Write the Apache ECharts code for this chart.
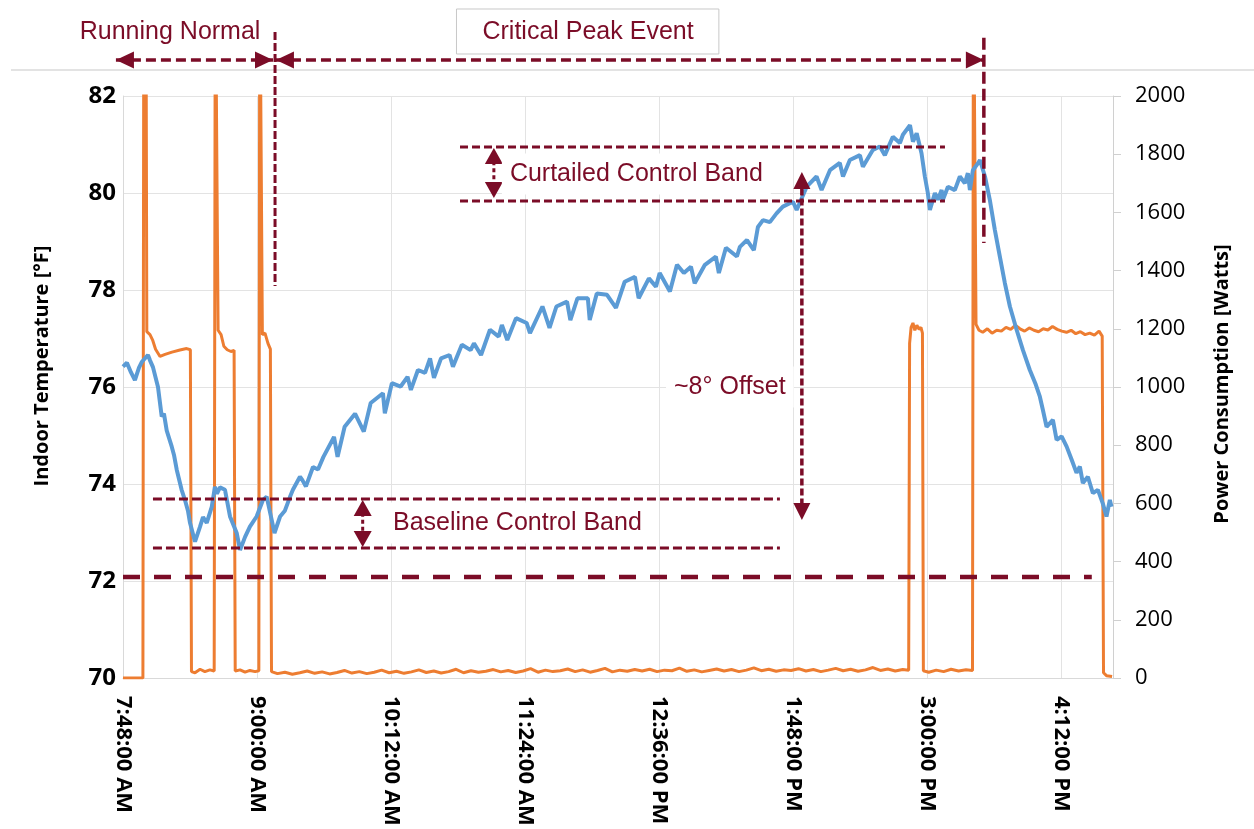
<!DOCTYPE html>
<html><head><meta charset="utf-8">
<script src="https://cdn.jsdelivr.net/npm/echarts@6/dist/echarts.min.js"></script>
<style>html,body{margin:0;padding:0;background:#fff}#c{width:1254px;height:829px}</style>
</head><body><div id="c"></div>
<script>
// x values are minutes after 7:48:00 AM
const xTickLabels = ['7:48:00 AM','9:00:00 AM','10:12:00 AM','11:24:00 AM','12:36:00 PM','1:48:00 PM','3:00:00 PM','4:12:00 PM'];

const tempMinutes = [0,2.1,4.3,6.4,8.6,10.2,13.4,14.5,16.1,18.8,
20.8,22.0,23.5,26.2,27.4,28.9,31.5,33.3,34.9,36.0,
38.7,41.4,43.0,45.0,47.7,49.4,50.5,52.1,54.8,57.5,
61.1,62.9,65.6,68.2,71.8,75.2,77.2,79.9,81.4,84.4,
87.0,89.7,91.3,95.1,96.4,98.3,102.1,104.8,107.7,113.4,
115.3,119.1,124.7,129.4,133.1,139.7,140.7,144.5,149.2,152.9,
154.7,158.5,162.3,165.0,167.1,170.9,175.5,177.3,182.1,186.8,
188.6,192.4,197.2,201.9,203.6,206.5,211.2,216.9,218.7,225.4,
229.2,232.9,238.6,240.4,244.2,249.8,250.8,254.6,260.1,264.9,
269.6,275.1,277.1,282.6,286.4,288.4,293.9,297.7,301.4,305.2,
307.2,312.7,318.6,320.2,324.0,329.9,331.5,335.3,339.0,341.2,
343.9,347.6,351.2,354.6,360.0,362.0,367.4,372.7,375.4,379.9,
385.2,386.9,390.6,396.0,397.6,403.0,406.7,409.4,413.7,417.5,
419.1,422.9,424.5,426.5,429.1,430.9,432.5,433.6,436.3,437.9,
439.9,440.6,443.3,447.0,449.7,452.4,454.0,455.1,456.7,459.4,
460.5,463.2,465.8,468.5,471.2,473.9,476.6,480.2,483.6,487.3,
490.5,492.7,494.3,496.3,499.7,501.7,504.4,507.1,509.8,512.4,
514.2,515.8,518.5,521.2,523.9,526.5,528.5,530.3,531.2];

const tempValues = [76.42,76.5,76.3,76.14,76.4,76.52,76.66,76.55,76.41,76.0,
75.39,75.45,75.1,74.77,74.6,74.29,73.88,73.67,73.45,73.2,
72.81,73.12,73.32,73.2,73.53,73.94,73.8,73.93,73.88,73.33,
72.99,72.64,72.91,73.12,73.33,73.67,73.74,73.26,72.99,73.33,
73.45,73.73,73.88,74.15,74.08,73.95,74.35,74.3,74.56,74.97,
74.56,75.18,75.45,75.08,75.67,75.87,75.46,76.08,76.01,76.21,
75.94,76.35,76.29,76.59,76.19,76.59,76.66,76.42,76.87,76.76,
76.9,76.66,77.18,77.04,77.28,76.97,77.42,77.32,77.11,77.66,
77.22,77.66,77.76,77.38,77.83,77.83,77.38,77.93,77.9,77.63,
78.17,78.27,77.83,78.24,78.07,78.35,77.97,78.52,78.35,78.48,
78.14,78.52,78.69,78.35,78.87,78.69,78.89,79.03,78.82,79.3,
79.44,79.4,79.58,79.72,79.82,79.65,80.13,80.34,80.06,80.47,
80.62,80.34,80.68,80.78,80.54,80.89,80.96,80.78,81.16,81.03,
81.2,81.4,81.06,81.23,80.82,80.34,80.0,79.65,80.0,79.86,
80.06,79.86,80.13,80.06,80.34,80.2,80.41,80.06,80.47,80.61,
80.68,80.34,79.86,79.24,78.69,78.14,77.66,77.18,76.76,76.35,
76.05,75.8,75.53,75.18,75.32,74.91,74.98,74.77,74.5,74.23,
74.36,74.02,74.15,73.81,73.88,73.6,73.33,73.67,73.53];

const powerMinutes = [0,10.7,11.2,12.3,12.8,14.5,16.0,17.5,19.9,22.6,
26.3,30.6,34.2,36.2,36.8,38.7,41.4,44.0,46.7,49.0,
49.6,50.6,51.1,52.7,54.2,56.0,58.0,59.7,60.3,62.9,
65.6,68.2,71.0,73.0,73.5,74.4,74.9,76.3,77.9,79.2,79.8,
83,87,91,95,99,103,107,111,115,119,123,127,131,135,139,143,147,151,155,159,
163,167,171,175,179,183,187,191,195,199,203,207,211,215,219,223,227,231,235,239,
243,247,251,255,259,263,267,271,275,279,283,287,291,295,299,303,307,311,315,319,
323,327,331,335,339,343,347,351,355,359,363,367,371,375,379,383,387,391,395,399,
403,407,411,415,419,422.2,
422.7,423.5,424.5,425.5,426.6,427.8,428.8,429.6,430.1,433,
437,441,445,449,453,456.5,457.0,457.9,458.4,460,
462,464.5,467,469.5,472,474.5,477,479.5,482,484.5,
487,489.5,492,494.5,497,499.5,502,504.5,507,509.5,
512,514.5,517,519.5,522,524.5,526.2,526.9,528.5,531.5];

const powerValues = [0,0,2500,2500,1190,1180,1160,1130,1105,1112,
1120,1127,1132,1128,22,18,30,22,28,24,
2500,2500,1195,1180,1140,1128,1122,1126,24,28,
20,26,22,25,2500,2500,1180,1185,1150,1130,22,
15,20,13,18,24,16,21,14,19,26,17,22,15,20,27,18,23,16,21,28,
19,24,17,22,30,18,25,20,23,29,21,26,19,24,32,20,27,22,25,31,
22,28,20,26,33,21,27,23,29,24,30,22,27,25,34,23,28,21,26,31,
24,29,22,27,35,25,30,23,28,26,32,24,29,22,27,33,25,30,23,28,
36,26,31,24,29,27,
1150,1205,1220,1195,1212,1198,1205,1185,25,20,
27,22,30,24,28,26,2500,2500,1215,1195,
1188,1200,1185,1195,1192,1205,1198,1212,1200,1192,
1203,1195,1190,1200,1196,1208,1198,1192,1188,1195,
1183,1190,1180,1185,1178,1192,1175,18,8,5];

const tempData = tempMinutes.map((m, i) => [m, tempValues[i]]);
const powerData = powerMinutes.map((m, i) => [m, powerValues[i]]);

const chart = echarts.init(document.getElementById('c'));
const numFont = '"Open Sans", "DejaVu Sans", sans-serif';
chart.setOption({
  animation: false,
  grid: { left: 123, right: 141, top: 96, bottom: 151, containLabel: false },
  xAxis: {
    type: 'value', min: 0, max: 532, interval: 72,
    axisLine: { show: true, onZero: false, lineStyle: { color: '#d9d9d9', width: 1 } },
    axisTick: { show: false },
    splitLine: { show: true, lineStyle: { color: '#e3e3e3', width: 1 } },
    axisLabel: {
      rotate: -90, margin: 18, fontFamily: numFont, fontWeight: 'bold', fontSize: 22, color: '#000',
      showMaxLabel: false,
      formatter: v => { const i = Math.round(v / 72); return (Math.abs(v - i * 72) < 1e-6 && i < xTickLabels.length) ? xTickLabels[i] : ''; }
    }
  },
  yAxis: [
    { type: 'value', min: 70, max: 82, interval: 2, position: 'left',
      axisLine: { show: true, lineStyle: { color: '#d9d9d9' } }, axisTick: { show: false },
      splitLine: { show: true, lineStyle: { color: '#e3e3e3' } },
      axisLabel: { margin: 7, fontFamily: numFont, fontWeight: 'bold', fontSize: 24, color: '#000',
        formatter: v => String(v) } },
    { type: 'value', min: 0, max: 2000, interval: 200, position: 'right',
      axisLine: { show: true, lineStyle: { color: '#d0d0d0' } },
      axisTick: { show: true, length: 8, lineStyle: { color: '#d0d0d0' } },
      splitLine: { show: false },
      axisLabel: { margin: 22, fontFamily: numFont, fontSize: 22, color: '#000',
        formatter: v => String(v) } }
  ],
  series: [
    { name: 'Power', type: 'line', yAxisIndex: 1, data: powerData, symbol: 'none', clip: true, z: 2,
      lineStyle: { color: '#ED7D31', width: 3 }, itemStyle: { color: '#ED7D31' } },
    { name: 'Temperature', type: 'line', yAxisIndex: 0, data: tempData, symbol: 'none', clip: true, z: 3,
      lineStyle: { color: '#5B9BD5', width: 4 }, itemStyle: { color: '#5B9BD5' } }
  ]
});

// ---- annotations (positions in axis units: minutes after 7:48, °F) ----
const annoColor = '#7b0c27';
const annoFont = '25px "Liberation Sans", Arial, sans-serif';
function P(m, t) { return chart.convertToPixel({ xAxisIndex: 0, yAxisIndex: 0 }, [m, t]); }
const g = [];
function dline(m1, t1, m2, t2, w, dash, color) {
  const a = P(m1, t1), b = P(m2, t2);
  g.push({ type: 'line', z: 100, shape: { x1: a[0], y1: a[1], x2: b[0], y2: b[1] },
    style: { stroke: color || annoColor, lineWidth: w, lineDash: dash } });
}
function head(m, t, dir, len, wid) {
  const [x, y] = P(m, t); let pts;
  if (dir === 'L') pts = [[x, y], [x + len, y - wid / 2], [x + len, y + wid / 2]];
  if (dir === 'R') pts = [[x, y], [x - len, y - wid / 2], [x - len, y + wid / 2]];
  if (dir === 'U') pts = [[x, y], [x - wid / 2, y + len], [x + wid / 2, y + len]];
  if (dir === 'D') pts = [[x, y], [x - wid / 2, y - len], [x + wid / 2, y - len]];
  g.push({ type: 'polygon', z: 101, shape: { points: pts }, style: { fill: annoColor } });
}
function label(m, t, text, align, bg) {
  const [x, y] = P(m, t);
  g.push({ type: 'text', z: 102, x: x, y: y,
    style: { text: text, font: annoFont, fill: annoColor, align: align, verticalAlign: 'middle',
      textAlign: align, textVerticalAlign: 'middle',
      backgroundColor: bg ? '#fff' : 'transparent', padding: bg ? [8, 8] : 0 } });
}

// top separator
dline(-60.2, 82.536, 608, 82.536, 1.2, null, '#c8c8c8');
// Running Normal
label(25.3, 83.32, 'Running Normal', 'center', false);
dline(-3.8, 82.742, 80.6, 82.742, 3.5, [10, 5]);
head(-3.8, 82.742, 'L', 18, 17); head(80.6, 82.742, 'R', 18, 17);
// Critical Peak Event
(function () {
  const a = P(179.2, 83.794), b = P(320.2, 82.866);
  g.push({ type: 'rect', z: 100, shape: { x: a[0], y: a[1], width: b[0] - a[0], height: b[1] - a[1] },
    style: { fill: '#fff', stroke: '#c8c8c8', lineWidth: 1 } });
})();
label(249.9, 83.32, 'Critical Peak Event', 'center', false);
dline(82.2, 82.742, 462.6, 82.742, 3.5, [10, 5]);
head(82.2, 82.742, 'L', 18, 17); head(462.6, 82.742, 'R', 18, 17);
// event boundaries
dline(81.7, 83.32, 81.7, 78.08, 3, [8, 3]);
dline(462.6, 83.2, 462.6, 78.97, 3.5, [12, 5]);
// 72 °F long dash
dline(0, 72.08, 520.6, 72.08, 4.5, [17, 14]);
// Curtailed control band
dline(181.1, 80.948, 441.7, 80.948, 3, [8, 4]);
dline(181.1, 79.835, 441.7, 79.835, 3, [8, 4]);
dline(199.3, 80.8, 199.3, 80.0, 3, [4, 3]);
head(199.3, 80.928, 'U', 16, 18); head(199.3, 79.897, 'D', 16, 18);
label(203.6, 80.39, 'Curtailed Control Band', 'left', true);
// Baseline control band
dline(16.1, 73.691, 353.0, 73.691, 3, [9, 4]);
dline(16.1, 72.680, 353.0, 72.680, 3, [9, 4]);
dline(128.8, 73.55, 128.8, 72.8, 3, [4, 3]);
head(128.8, 73.67, 'U', 16, 18); head(128.8, 72.70, 'D', 16, 18);
label(140.8, 73.196, 'Baseline Control Band', 'left', true);
// ~8° offset
dline(364.8, 80.3, 364.8, 73.4, 3.5, [7, 3]);
head(364.8, 80.433, 'U', 17, 17); head(364.8, 73.258, 'D', 17, 17);
label(326.1, 76.0, '~8\u00B0 Offset', 'center', true);

// axis titles
g.push({ type: 'text', z: 102, x: 42, y: 366, rotation: Math.PI / 2,
  style: { text: 'Indoor Temperature [\u00B0F]', font: 'bold 20px "Open Sans", sans-serif', fill: '#000',
    align: 'center', verticalAlign: 'middle', textAlign: 'center', textVerticalAlign: 'middle' } });
g.push({ type: 'text', z: 102, x: 1222, y: 384, rotation: Math.PI / 2,
  style: { text: 'Power Consumption [Watts]', font: 'bold 20px "Open Sans", sans-serif', fill: '#000',
    align: 'center', verticalAlign: 'middle', textAlign: 'center', textVerticalAlign: 'middle' } });

chart.setOption({ graphic: { elements: g } });
</script>
</body></html>
